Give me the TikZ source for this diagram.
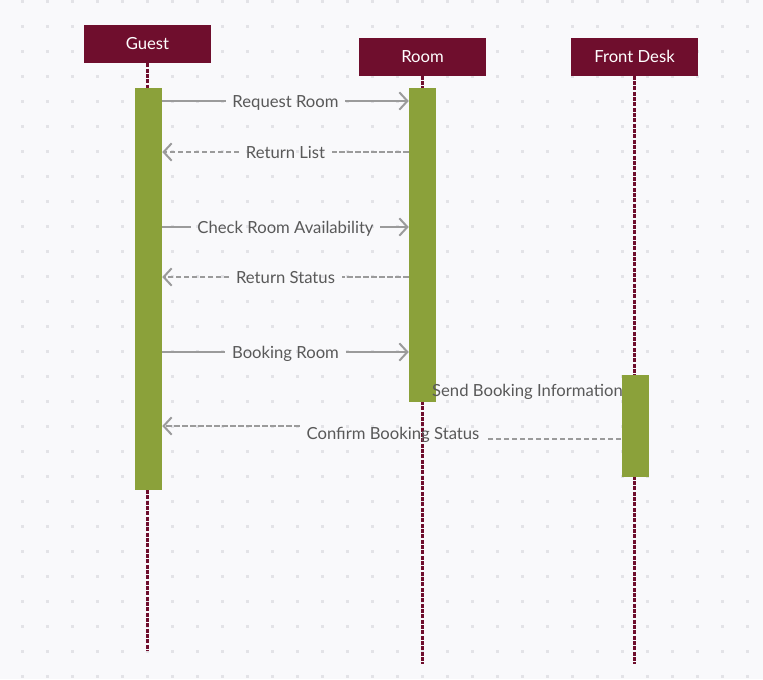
\documentclass[tikz,border=0pt]{standalone}
\usepackage{fontspec}
\setmainfont{Lato}
\usetikzlibrary{arrows.meta}

\definecolor{bgcol}{HTML}{F9F9FB}
\definecolor{dotcol}{HTML}{E3E3E7}
\definecolor{headcol}{HTML}{6F0E2D}
\definecolor{barcol}{HTML}{8BA13A}
\definecolor{msgcol}{HTML}{9B9B9B}
\definecolor{txtcol}{HTML}{595959}

\tikzset{
  header/.style={fill=headcol, text=white, inner sep=0pt,
    minimum width=95.25pt, minimum height=28.5pt,
    font=\fontsize{12.5}{15}\selectfont},
  lifeline/.style={draw=headcol, line width=1.7pt, dash pattern=on 3pt off 1pt},
  actbar/.style={fill=barcol, inner sep=0pt, minimum width=20.25pt},
  msgline/.style={draw=msgcol, line width=1.5pt},
  msg/.style={msgline, -{Straight Barb[length=6pt, width=13pt]}},
  replyline/.style={msgline, dash pattern=on 4pt off 2pt},
  reply/.style={replyline, -{Straight Barb[length=6pt, width=13pt]}},
  msglabel/.style={text=txtcol, inner sep=5pt, text height=9.2pt, text depth=0pt,
    font=\fontsize{12.5}{15}\selectfont}
}

\begin{document}
\begin{tikzpicture}[x=0.75pt, y=-0.75pt]
% draw background and dots
	\useasboundingbox[fill=bgcol] (0,0) rectangle (763,679);
	\foreach \i in {0,...,30}
		\foreach \j in {0,...,27}
			\fill[dotcol] (20.5+25*\i, -0.5+25*\j) rectangle ++(3,3);

% draw lifelines
	\node[header] (guest) at (147.5,44) {Guest};
	\node[header] (room) at (422.5,56.5) {Room};
	\node[header] (desk) at (634.5,56.5) {Front Desk};
	\coordinate (guestend) at (147.5,651);
	\coordinate (roomend) at (422.5,664);
	\coordinate (deskend) at (634.5,664);
	\draw[lifeline] (guest.south) -- (guestend);
	\draw[lifeline] (room.south) -- (roomend);
	\draw[lifeline] (desk.south) -- (deskend);

% draw activation bars
	\node[actbar, minimum height=301.5pt] (guestbar) at (148.5,289) {};
	\node[actbar, minimum height=235.5pt] (roombar) at (422.5,245) {};
	\node[actbar, minimum height=76.5pt] (deskbar) at (635,426) {};

% messages
	\node[msglabel] (req) at (285.5,101) {Request Room};
	\draw[msgline] (guestbar.east |- req) -- (req.west);
	\draw[msg] (req.east) -- (roombar.west |- req);

	\node[msglabel] (list) at (285.5,152) {Return List};
	\draw[replyline] (roombar.west |- list) -- (list.east);
	\draw[reply] (list.west) -- (guestbar.east |- list);

	\node[msglabel] (check) at (285.5,227) {Check Room Availability};
	\draw[msgline] (guestbar.east |- check) -- (check.west);
	\draw[msg] (check.east) -- (roombar.west |- check);

	\node[msglabel] (status) at (285.5,277) {Return Status};
	\draw[replyline] (roombar.west |- status) -- (status.east);
	\draw[reply] (status.west) -- (guestbar.east |- status);

	\node[msglabel] (book) at (285.5,352) {Booking Room};
	\draw[msgline] (guestbar.east |- book) -- (book.west);
	\draw[msg] (book.east) -- (roombar.west |- book);

	\node[msglabel] (send) at (527.5,390) {Send Booking Information};

	\node[msglabel] (confirm) at (393,433) {Confirm Booking Status};
	\coordinate (confirml) at ([yshift=5.25pt]confirm.west);
	\coordinate (confirmr) at ([yshift=-4.5pt]confirm.east);
	\draw[replyline] (deskbar.west |- confirmr) -- (confirmr);
	\draw[reply] (confirml) -- (guestbar.east |- confirml);
\end{tikzpicture}
\end{document}
